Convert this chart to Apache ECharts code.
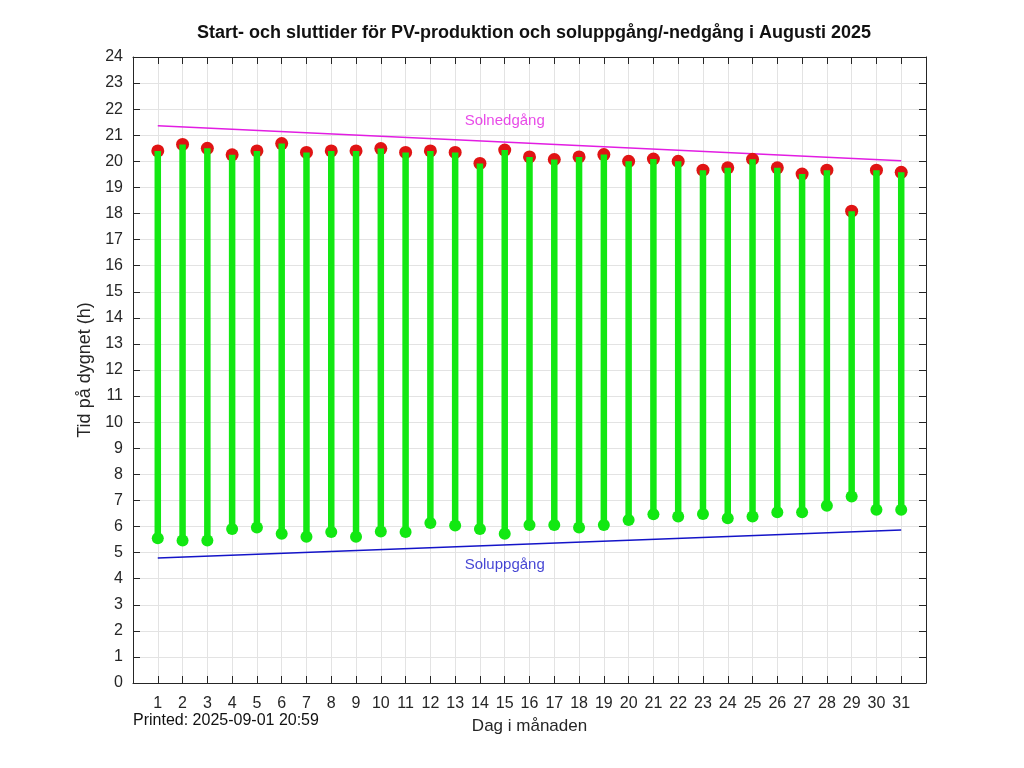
<!DOCTYPE html>
<html>
<head>
<meta charset="utf-8">
<title>PV-produktion Augusti 2025</title>
<script src="https://cdn.jsdelivr.net/npm/echarts@6/dist/echarts.min.js"></script>
<style>
  html, body { margin: 0; padding: 0; background: #fff; }
  #main { width: 1024px; height: 768px; }
</style>
</head>
<body>
<div id="main"></div>
<script>
// dagar i augusti
var days = [1,2,3,4,5,6,7,8,9,10,11,12,13,14,15,16,17,18,19,20,21,22,23,24,25,26,27,28,29,30,31];
// start av PV-produktion (h)
var pvStart = [5.55,5.46,5.46,5.90,5.96,5.72,5.61,5.79,5.61,5.81,5.79,6.13,6.04,5.90,5.72,6.06,
               6.06,5.96,6.06,6.25,6.47,6.38,6.48,6.32,6.38,6.55,6.55,6.80,7.15,6.64,6.64];
// slut av PV-produktion (h)
var pvEnd = [20.40,20.65,20.50,20.25,20.40,20.68,20.34,20.40,20.40,20.49,20.34,20.40,20.34,19.92,20.43,20.17,
             20.07,20.17,20.26,20.00,20.09,20.00,19.66,19.75,20.08,19.75,19.51,19.66,18.09,19.66,19.58];
// solnedgång / soluppgång, första och sista dagen
var sunsetDays = [1, 31];
var sunsetTimes = [21.36, 20.02];
var sunriseDays = [1, 31];
var sunriseTimes = [4.79, 5.87];

var FONT = 'Liberation Sans';
var axisColor = '#262626';
var gridColor = '#e3e3e3';

var stems = days.map(function (d, i) { return [d, pvStart[i], pvEnd[i]]; });
var tops = days.map(function (d, i) { return [d, pvEnd[i]]; });
var sunset = sunsetDays.map(function (d, i) { return [d, sunsetTimes[i]]; });
var sunrise = sunriseDays.map(function (d, i) { return [d, sunriseTimes[i]]; });

var myChart = echarts.init(document.getElementById('main'));

function boxAxis(extra) {
  var base = {
    type: 'value',
    interval: 1,
    axisLine: { show: true, onZero: false, lineStyle: { color: axisColor, width: 1 } },
    axisTick: { show: true, inside: true, length: 7, lineStyle: { color: axisColor } },
    axisLabel: { show: false },
    splitLine: { show: false }
  };
  return Object.assign(base, extra);
}

var option = {
  animation: false,
  backgroundColor: '#fff',
  textStyle: { fontFamily: FONT },
  title: {
    text: 'Start- och sluttider för PV-produktion och soluppgång/-nedgång i Augusti 2025',
    left: 529, top: 19, textAlign: 'center',
    textStyle: { fontFamily: FONT, fontSize: 18, fontWeight: 'bold', color: '#111' }
  },
  grid: { left: 133, right: 98, top: 57, bottom: 85 },
  xAxis: [
    boxAxis({
      position: 'bottom', min: 0, max: 32,
      name: 'Dag i månaden', nameLocation: 'middle', nameGap: 35,
      nameTextStyle: { fontFamily: FONT, fontSize: 17, color: '#262626' },
      axisLabel: {
        show: true, margin: 13, fontFamily: FONT, fontSize: 16, color: '#262626',
        formatter: function (v) { return (v >= 1 && v <= 31) ? String(v) : ''; }
      },
      splitLine: { show: true, lineStyle: { color: gridColor, width: 1 } }
    }),
    boxAxis({ position: 'top', min: 0, max: 32 })
  ],
  yAxis: [
    boxAxis({
      position: 'left', min: 0, max: 24,
      name: 'Tid på dygnet (h)', nameLocation: 'middle', nameGap: 27,
      nameTextStyle: { fontFamily: FONT, fontSize: 18, color: '#262626' },
      axisLabel: { show: true, margin: 10, fontFamily: FONT, fontSize: 16, color: '#262626' },
      splitLine: { show: true, lineStyle: { color: gridColor, width: 1 } }
    }),
    boxAxis({ position: 'right', min: 0, max: 24 })
  ],
  graphic: [{
    type: 'text', left: 133, top: 713,
    style: { text: 'Printed: 2025-09-01 20:59', fontFamily: FONT, fontSize: 16, fill: '#111' }
  }],
  series: [
    {
      name: 'Solnedgång', type: 'line', data: sunset, showSymbol: false, z: 2,
      lineStyle: { color: '#e21de2', width: 1.5 }
    },
    {
      name: 'Soluppgång', type: 'line', data: sunrise, showSymbol: false, z: 2,
      lineStyle: { color: '#1414c8', width: 1.5 }
    },
    {
      name: 'Slut', type: 'scatter', data: tops, symbolSize: 13, z: 3,
      itemStyle: { color: '#e01414', opacity: 1 }
    },
    {
      name: 'PV', type: 'custom', data: stems, z: 4,
      renderItem: function (params, api) {
        var x = api.value(0);
        var p0 = api.coord([x, api.value(1)]);
        var p1 = api.coord([x, api.value(2)]);
        return {
          type: 'group',
          children: [
            { type: 'line', shape: { x1: p0[0], y1: p0[1], x2: p1[0], y2: p1[1] },
              style: { stroke: '#12e812', lineWidth: 6.5, lineCap: 'butt' } },
            { type: 'circle', shape: { cx: p0[0], cy: p0[1], r: 6 },
              style: { fill: '#12e812' } }
          ]
        };
      }
    },
    {
      type: 'scatter', data: [[15, 21.55]], symbolSize: 1, z: 5, silent: true,
      itemStyle: { color: 'rgba(0,0,0,0)' },
      label: { show: true, position: 'inside', formatter: 'Solnedgång',
               fontFamily: FONT, fontSize: 15, color: '#e21de2' }
    },
    {
      type: 'scatter', data: [[15, 4.54]], symbolSize: 1, z: 5, silent: true,
      itemStyle: { color: 'rgba(0,0,0,0)' },
      label: { show: true, position: 'inside', formatter: 'Soluppgång',
               fontFamily: FONT, fontSize: 15, color: '#1414c8' }
    }
  ]
};

myChart.setOption(option);
</script>
</body>
</html>
